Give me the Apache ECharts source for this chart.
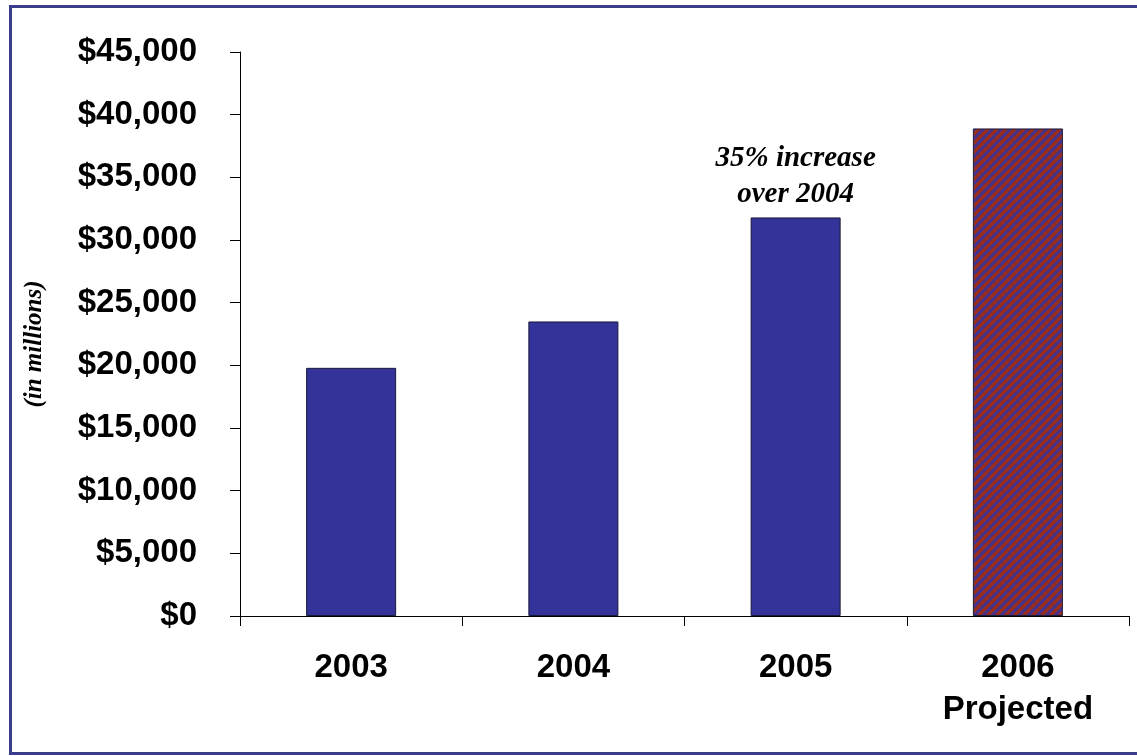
<!DOCTYPE html>
<html>
<head>
<meta charset="utf-8">
<title>Revenue by Year</title>
<script src="https://cdn.jsdelivr.net/npm/echarts@6/dist/echarts.min.js"></script>
<style>
  html, body { margin: 0; padding: 0; background: #ffffff; }
  #chart { width: 1137px; height: 756px; }
</style>
</head>
<body>
<div id="chart"></div>
<script>
// Yearly totals, in millions of dollars
const categories = ['2003', '2004', '2005', '2006\nProjected'];
const values = [19800, 23500, 31800, 38900];
const projected = [false, false, false, true];
const yTicks = { min: 0, max: 45000, interval: 5000 };
const noteText = '35% increase\nover 2004';
const noteIndex = 2;

// Diagonal hatch used for the projected year
function hatchPattern() {
  const size = 9;
  const c = document.createElement('canvas');
  c.width = size; c.height = size;
  const ctx = c.getContext('2d');
  const img = ctx.createImageData(size, size);
  const red = [153, 45, 25], blue = [70, 50, 138];
  for (let y = 0; y < size; y++) {
    for (let x = 0; x < size; x++) {
      const t = ((x + y) % size) / size;          // position across the stripe period
      const d = Math.abs(t - 0.5) * 2;            // 0 at blue centre, 1 at red centre
      const w = Math.min(1, Math.max(0, (d - 0.4) / 0.2));
      const i = (y * size + x) * 4;
      for (let k = 0; k < 3; k++) img.data[i + k] = Math.round(blue[k] * (1 - w) + red[k] * w);
      img.data[i + 3] = 255;
    }
  }
  ctx.putImageData(img, 0, 0);
  return c;
}

const hatch = { image: hatchPattern(), repeat: 'repeat' };

const chart = echarts.init(document.getElementById('chart'), null, { renderer: 'canvas' });

const barData = values.map((v, i) => {
  const item = {
    value: v,
    itemStyle: { color: projected[i] ? hatch : '#333399' }
  };
  if (i === noteIndex) {
    item.label = {
      show: true,
      position: 'top',
      distance: 5,
      formatter: noteText,
      fontFamily: '"Liberation Serif", "Times New Roman", serif',
      fontStyle: 'italic',
      fontWeight: 'bold',
      fontSize: 29,
      lineHeight: 36,
      color: '#000000',
      align: 'center'
    };
  }
  return item;
});

chart.setOption({
  backgroundColor: '#ffffff',
  animation: false,
  grid: { left: 240, right: 8, top: 52, bottom: 140, containLabel: false },
  xAxis: {
    type: 'category',
    data: categories,
    boundaryGap: true,
    axisLine: { lineStyle: { color: '#000000', width: 1 } },
    axisTick: { show: true, length: 10, lineStyle: { color: '#000000' } },
    axisLabel: {
      margin: 31,
      color: '#000000',
      fontFamily: '"Liberation Sans", Arial, sans-serif',
      fontWeight: 'bold',
      fontSize: 33,
      lineHeight: 42,
      interval: 0
    },
    splitLine: { show: false }
  },
  yAxis: {
    type: 'value',
    min: yTicks.min,
    max: yTicks.max,
    interval: yTicks.interval,
    axisLine: { show: true, lineStyle: { color: '#000000', width: 1 } },
    axisTick: { show: true, length: 10, lineStyle: { color: '#000000' } },
    axisLabel: {
      margin: 43,
      color: '#000000',
      fontFamily: '"Liberation Sans", Arial, sans-serif',
      fontWeight: 'bold',
      fontSize: 33,
      formatter: v => '$' + v.toLocaleString('en-US')
    },
    splitLine: { show: false }
  },
  series: [{
    type: 'bar',
    data: barData,
    barWidth: '40.5%',
    itemStyle: { borderColor: '#1a1a3a', borderWidth: 1 }
  }],
  graphic: [
    {
      type: 'rect',
      shape: { x: 10.5, y: 6.5, width: 1140, height: 747 },
      style: { fill: 'none', stroke: '#3c3c8c', lineWidth: 3 },
      z: 100
    },
    {
      type: 'text',
      x: 35,
      y: 344,
      rotation: Math.PI / 2,
      style: {
        text: '(in millions)',
        font: 'italic bold 25px "Liberation Serif", "Times New Roman", serif',
        fill: '#000000',
        align: 'center',
        verticalAlign: 'middle'
      }
    }
  ]
});
</script>
</body>
</html>
